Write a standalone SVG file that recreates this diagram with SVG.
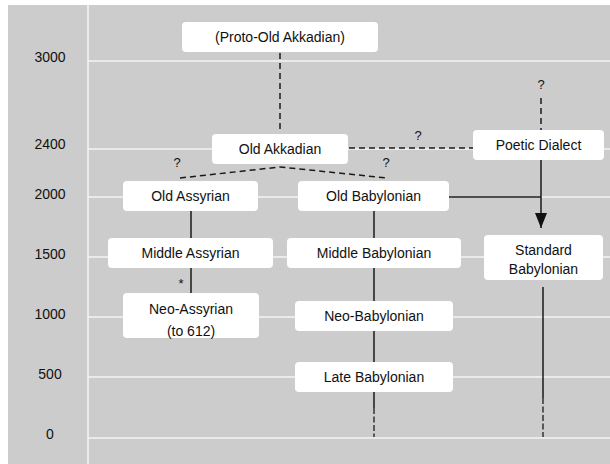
<svg xmlns="http://www.w3.org/2000/svg" width="610" height="464" viewBox="0 0 610 464">
<style>
.bg{fill:#cccccc}
.grid{stroke:#f4f4f4;stroke-width:1.6;fill:none}
.box{fill:#ffffff}
text{font-family:"Liberation Sans",Arial,sans-serif;font-size:14px;fill:#111111;text-anchor:middle}
.yr{font-size:14px}
.q{font-size:13px}
.solid{stroke:#1a1a1a;stroke-width:1.5;fill:none}
.dash{stroke:#1a1a1a;stroke-width:1.5;fill:none;stroke-dasharray:6 4}
.dash2{stroke:#333;stroke-width:1.5;fill:none;stroke-dasharray:6 2.5}
</style>
<defs>
<marker id="arr" markerWidth="15" markerHeight="12" refX="15" refY="6" orient="auto" markerUnits="userSpaceOnUse" viewBox="0 0 15 12">
<path d="M0,0 L15,6 L0,12 Z" fill="#111"/>
</marker>
</defs>
<rect class="bg" x="8" y="5" width="602" height="459"/>
<g id="grid">
<line class="grid" x1="88" y1="5" x2="88" y2="464"/>
<line class="grid" x1="88" y1="61" x2="610" y2="61"/>
<line class="grid" x1="88" y1="149" x2="610" y2="149"/>
<line class="grid" x1="88" y1="197" x2="610" y2="197"/>
<line class="grid" x1="88" y1="257" x2="610" y2="257"/>
<line class="grid" x1="88" y1="317" x2="610" y2="317"/>
<line class="grid" x1="88" y1="377" x2="610" y2="377"/>
<line class="grid" x1="88" y1="438" x2="610" y2="438"/>
</g>
<g id="years">
<text class="yr" x="50" y="62">3000</text>
<text class="yr" x="50" y="149">2400</text>
<text class="yr" x="50" y="199">2000</text>
<text class="yr" x="50" y="259">1500</text>
<text class="yr" x="50" y="319">1000</text>
<text class="yr" x="50" y="379">500</text>
<text class="yr" x="50" y="439">0</text>
</g>
<g id="connectors">
<line class="dash" x1="280" y1="53" x2="280" y2="133"/>
<line class="dash" x1="349" y1="148" x2="473" y2="148"/>
<line class="dash" x1="541" y1="98" x2="541" y2="130"/>
<polyline class="dash" points="180,178 280,167 387,178"/>
<line class="solid" x1="541" y1="160" x2="541" y2="228" marker-end="url(#arr)"/>
<line class="solid" x1="449" y1="197" x2="541" y2="197"/>
<line class="solid" x1="191" y1="211" x2="191" y2="238"/>
<line class="solid" x1="191" y1="268" x2="191" y2="293"/>
<line class="solid" x1="374" y1="211" x2="374" y2="408"/>
<line class="dash2" x1="374" y1="408" x2="374" y2="437"/>
<line class="solid" x1="543" y1="287" x2="543" y2="398"/>
<line class="dash2" x1="543" y1="398" x2="543" y2="437"/>
<text class="q" x="418" y="140">?</text>
<text class="q" x="541" y="89">?</text>
<text class="q" x="177" y="167">?</text>
<text class="q" x="386" y="167">?</text>
<text class="q" x="181" y="288">*</text>
</g>
<g id="proto"><rect class="box" x="182" y="22" width="196" height="30" rx="4"/><text x="280" y="42">(Proto-Old Akkadian)</text></g>
<g id="old-akkadian"><rect class="box" x="212" y="134" width="136" height="30" rx="4"/><text x="280" y="154">Old Akkadian</text></g>
<g id="poetic-dialect"><rect class="box" x="473" y="130" width="131" height="30" rx="4"/><text x="538.5" y="150">Poetic Dialect</text></g>
<g id="old-assyrian"><rect class="box" x="123" y="181" width="135" height="30" rx="4"/><text x="190.5" y="201">Old Assyrian</text></g>
<g id="old-babylonian"><rect class="box" x="298" y="181" width="151" height="30" rx="4"/><text x="373.5" y="201">Old Babylonian</text></g>
<g id="middle-assyrian"><rect class="box" x="108" y="238" width="165" height="30" rx="4"/><text x="190.5" y="258">Middle Assyrian</text></g>
<g id="middle-babylonian"><rect class="box" x="287" y="238" width="174" height="30" rx="4"/><text x="374" y="258">Middle Babylonian</text></g>
<g id="standard-babylonian"><rect class="box" x="484" y="235" width="119" height="45" rx="4"/><text x="543.5" y="255">Standard</text><text x="543.5" y="274">Babylonian</text></g>
<g id="neo-assyrian"><rect class="box" x="123" y="293" width="136" height="45" rx="4"/><text x="191" y="314">Neo-Assyrian</text><text x="191" y="336">(to 612)</text></g>
<g id="neo-babylonian"><rect class="box" x="295" y="301" width="158" height="30" rx="4"/><text x="374" y="321">Neo-Babylonian</text></g>
<g id="late-babylonian"><rect class="box" x="295" y="362" width="158" height="30" rx="4"/><text x="374" y="382">Late Babylonian</text></g>
</svg>
